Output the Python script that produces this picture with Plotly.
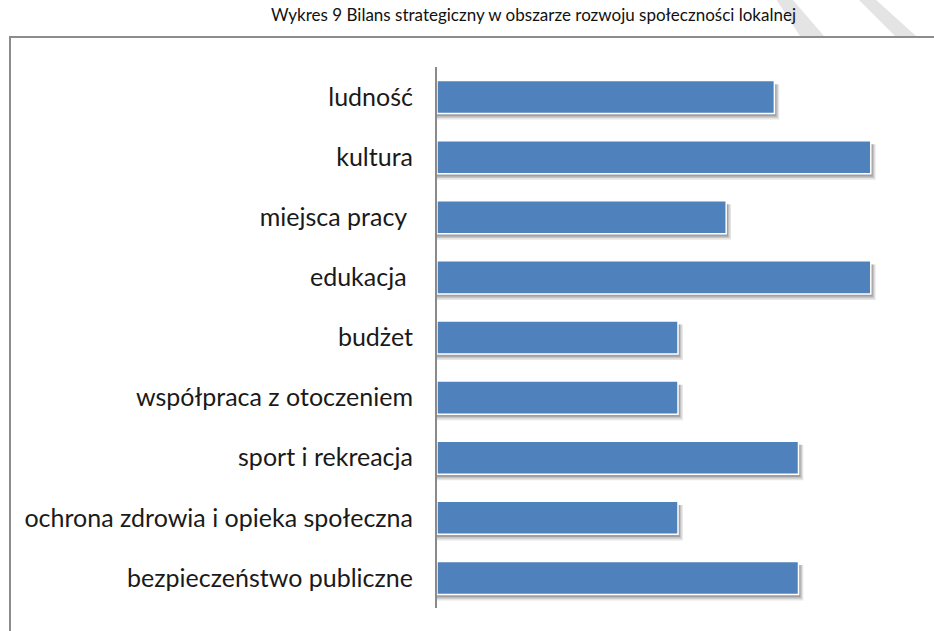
import plotly.graph_objects as go

categories = ["ludność", "kultura", "miejsca pracy\u00a0", "edukacja\u00a0", "budżet",
              "współpraca z otoczeniem", "sport i rekreacja",
              "ochrona zdrowia i opieka społeczna", "bezpieczeństwo publiczne"]
values = [7, 9, 6, 9, 5, 5, 7.5, 5, 7.5]
title_text = "Wykres 9 Bilans strategiczny w obszarze rozwoju społeczności lokalnej"

W, H = 934, 631
L, R, T, B = 437, 15, 67, 23
PW, PH = W - L - R, H - T - B


def px(x):
    return (x - L) / PW


def py(y):
    return (H - B - y) / PH


BAR_W = 0.55
fig = go.Figure()
fig.add_trace(go.Bar(
    y=categories, x=values, orientation="h", width=BAR_W,
    marker=dict(color="#4F81BD", line=dict(color="white", width=1.5)),
    showlegend=False, hoverinfo="x+y",
))

shapes = []
# bar shadows (derived from the data values)
for i, v in enumerate(values):
    for dx, dy, op in [(0.10, 0.10, 0.10), (0.07, 0.07, 0.14), (0.04, 0.045, 0.18)]:
        shapes.append(dict(type="rect", xref="x", yref="y", layer="below",
                           x0=0, x1=v + dx, y0=i - BAR_W / 2 + 0.06, y1=i + BAR_W / 2 + dy,
                           fillcolor="black", opacity=op, line=dict(width=0)))

# outer frame
shapes.append(dict(type="path", xref="paper", yref="paper",
                   path=f"M {px(10)},{py(H+5)} L {px(10)},{py(37)} L {px(W+5)},{py(37)}",
                   line=dict(color="#8c8c8c", width=2)))
# watermark strokes
for poly in [[(776, -1), (792, -1), (824, 36), (800, 36)],
             [(858, -1), (875, -1), (916, 36), (895, 36)]]:
    p = "M " + " L ".join(f"{px(a)},{py(b)}" for a, b in poly) + " Z"
    shapes.append(dict(type="path", xref="paper", yref="paper", path=p,
                       fillcolor="#e4e4e4", line=dict(width=0), layer="below"))

fig.update_layout(
    width=W, height=H,
    margin=dict(l=L, r=R, t=T, b=B),
    paper_bgcolor="white", plot_bgcolor="white",
    font=dict(family="Lato, 'Open Sans', sans-serif", color="#000000"),
    xaxis=dict(range=[0, 10], visible=False, fixedrange=True),
    yaxis=dict(autorange="reversed", showline=True, linecolor="#8a8a8a", linewidth=2,
               ticks="", showgrid=False, tickfont=dict(size=25, color="#1a1a1a"),
               ticklabelstandoff=17, fixedrange=True),
    shapes=shapes,
    annotations=[dict(text=title_text, xref="paper", yref="paper",
                      x=px(533), y=py(14), xanchor="center", yanchor="middle",
                      showarrow=False, font=dict(size=17, color="#111111"))],
    bargap=0.45,
)

fig.write_html("out.html", config={"displayModeBar": False},
               post_script="document.body.style.margin='0';document.body.style.overflow='hidden';")
